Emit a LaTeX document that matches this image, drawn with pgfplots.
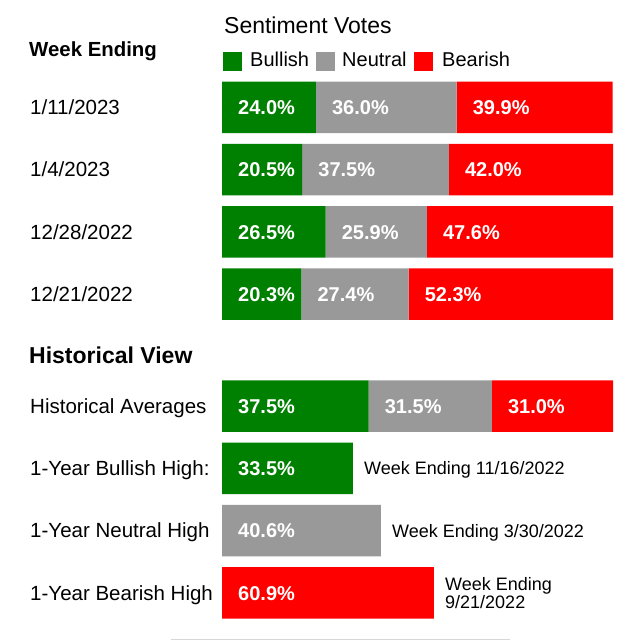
\documentclass[border=0pt]{standalone}
\usepackage{pgfplots}
\pgfplotsset{compat=1.18}
\usepackage{fontspec}
\setmainfont{Liberation Sans}
\definecolor{cBull}{RGB}{0,128,0}
\definecolor{cNeut}{RGB}{153,153,153}
\definecolor{cBear}{RGB}{255,0,0}
\definecolor{cLine}{RGB}{215,215,215}
\tikzset{vl/.style={anchor=base west,inner sep=0pt,font=\fontsize{20}{24}\selectfont\bfseries,text=white},
  rl/.style={anchor=base west,inner sep=0pt,font=\fontsize{20.5}{24}\selectfont},
  sn/.style={anchor=base west,inner sep=0pt,font=\fontsize{18}{20}\selectfont}}
\begin{document}
\begin{tikzpicture}
\begin{axis}[
  name=ax,
  x=3.91pt, y=1pt, y dir=reverse,
  xmin=-56.78, xmax=106.91, ymin=0, ymax=641,
  hide axis, clip=false,
  xbar stacked, bar width=51.5,
  after end axis/.code={
    \node[vl] at (axis cs:4.1,114.5) {24.0\%};
    \node[vl] at (axis cs:28.1,114.5) {36.0\%};
    \node[vl] at (axis cs:64.1,114.5) {39.9\%};
    \node[vl] at (axis cs:4.1,176.8) {20.5\%};
    \node[vl] at (axis cs:24.6,176.8) {37.5\%};
    \node[vl] at (axis cs:62.1,176.8) {42.0\%};
    \node[vl] at (axis cs:4.1,239.1) {26.5\%};
    \node[vl] at (axis cs:30.6,239.1) {25.9\%};
    \node[vl] at (axis cs:56.5,239.1) {47.6\%};
    \node[vl] at (axis cs:4.1,301.4) {20.3\%};
    \node[vl] at (axis cs:24.4,301.4) {27.4\%};
    \node[vl] at (axis cs:51.8,301.4) {52.3\%};
    \node[vl] at (axis cs:4.1,413.2) {37.5\%};
    \node[vl] at (axis cs:41.6,413.2) {31.5\%};
    \node[vl] at (axis cs:73.1,413.2) {31.0\%};
    \node[vl] at (axis cs:4.1,475.5) {33.5\%};
    \node[vl] at (axis cs:4.1,537.8) {40.6\%};
    \node[vl] at (axis cs:4.1,600.1) {60.9\%};
  },
]
% Bullish
\addplot[fill=cBull, draw=none] coordinates {
 (24.0,107.3) (20.5,169.6) (26.5,231.9) (20.3,294.2)
 (37.5,406.0) (33.5,468.3) (0,530.6) (0,592.9)};
% Neutral
\addplot[fill=cNeut, draw=none] coordinates {
 (36.0,107.3) (37.5,169.6) (25.9,231.9) (27.4,294.2)
 (31.5,406.0) (0,468.3) (40.6,530.6) (0,592.9)};
% Bearish
\addplot[fill=cBear, draw=none] coordinates {
 (39.9,107.3) (42.0,169.6) (47.6,231.9) (52.3,294.2)
 (31.0,406.0) (0,468.3) (0,530.6) (54.2,592.9)};

% titles
\node[anchor=base west,inner sep=0pt,font=\fontsize{23}{27}\selectfont] at (axis cs:0.5,33.3) {Sentiment Votes};
\node[anchor=base west,inner sep=0pt,font=\fontsize{20.4}{24}\selectfont\bfseries] at (axis cs:-49.36,56.7) {Week Ending};
\node[anchor=base west,inner sep=0pt,font=\fontsize{23}{26}\selectfont\bfseries] at (axis cs:-49.36,363.3) {Historical View};

% legend
\fill[cBull] (axis cs:0.26,51.7) rectangle (axis cs:5.12,70.7);
\node[anchor=base west,inner sep=0pt,font=\fontsize{20}{24}\selectfont] at (axis cs:7.16,66.7) {Bullish};
\fill[cNeut] (axis cs:24.04,51.7) rectangle (axis cs:28.90,70.7);
\node[anchor=base west,inner sep=0pt,font=\fontsize{20}{24}\selectfont] at (axis cs:30.69,66.7) {Neutral};
\fill[cBear] (axis cs:49.10,51.7) rectangle (axis cs:53.96,70.7);
\node[anchor=base west,inner sep=0pt,font=\fontsize{20}{24}\selectfont] at (axis cs:56.27,66.7) {Bearish};

% row labels
\node[rl] at (axis cs:-49.1,114.5) {1/11/2023};
\node[rl] at (axis cs:-49.1,176.8) {1/4/2023};
\node[rl] at (axis cs:-49.1,239.1) {12/28/2022};
\node[rl] at (axis cs:-49.1,301.4) {12/21/2022};
\node[rl] at (axis cs:-49.1,413.2) {Historical Averages};
\node[rl] at (axis cs:-49.1,475.5) {1-Year Bullish High:};
\node[rl] at (axis cs:-49.1,537.8) {1-Year Neutral High};
\node[rl] at (axis cs:-49.1,600.1) {1-Year Bearish High};

% side notes
\node[sn] at (axis cs:36.32,474.8) {Week Ending 11/16/2022};
\node[sn] at (axis cs:43.48,537.1) {Week Ending 3/30/2022};
\node[sn] at (axis cs:57.03,590) {Week Ending};
\node[sn] at (axis cs:57.03,608) {9/21/2022};

\draw[cLine, line width=1.5pt] (axis cs:-13.04,639.6) -- (axis cs:73.66,639.6);
\end{axis}
\pgfresetboundingbox
\path (ax.south west) rectangle (ax.north east);
\end{tikzpicture}
\end{document}
